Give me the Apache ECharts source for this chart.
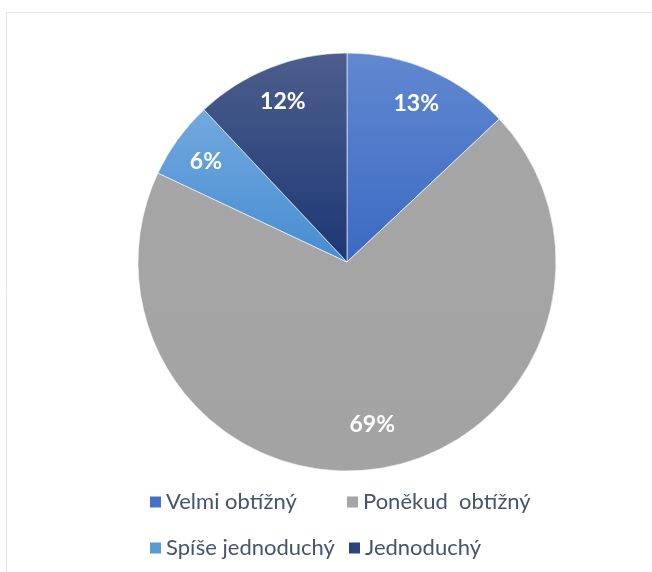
<!DOCTYPE html>
<html><head><meta charset="utf-8">
<script src="https://cdn.jsdelivr.net/npm/echarts@6/dist/echarts.min.js"></script>
<style>html,body{margin:0;padding:0;background:#fff}#c{width:652px;height:572px}</style>
</head><body><div id="c"></div>
<script>
const categories = ['Velmi obtížný', 'Poněkud  obtížný', 'Spíše jednoduchý', 'Jednoduchý'];
const values = [13, 69, 6, 12];
const labels = ['13%', '69%', '6%', '12%'];
const gradients = [
  ['#6188d0', '#3b6ac3'],
  ['#a6a6a6', '#a3a3a3'],
  ['#72a8de', '#468dd2'],
  ['#4c5e8c', '#1d3774']
];
const legendIconColors = ['#4472c4', '#a5a5a5', '#5b9bd5', '#2a4580'];
const labelOffsets = [[0, 2], [-2, -10], [0, 2], [0, 2]];

function grad(c) {
  return new echarts.graphic.LinearGradient(0, 0, 0, 1, [{offset: 0, color: c[0]}, {offset: 1, color: c[1]}]);
}

const chart = echarts.init(document.getElementById('c'), null, {renderer: 'canvas'});
const R = 209;
const center = [347, 262];
const font = 'Lato, "Open Sans", sans-serif';

const legendPos = [[143, 486], [340, 486], [143, 532], [342, 532]];
const legends = categories.map((name, i) => ({
  data: [{name: name, itemStyle: {color: legendIconColors[i]}}],
  left: legendPos[i][0], top: legendPos[i][1],
  icon: 'rect', itemWidth: 13, itemHeight: 13, itemGap: 0,
  selectedMode: false,
  textStyle: {fontFamily: font, fontSize: 22, color: '#44546a', padding: [0, 0, 0, -1]}
}));

chart.setOption({
  animation: false,
  graphic: [{
    type: 'rect', shape: {x: 6.5, y: 12.5, width: 700, height: 600},
    style: {fill: null, stroke: '#dde3ea', lineWidth: 1}, silent: true, z: -10
  }],
  legend: legends,
  series: [{
    type: 'pie',
    center: center,
    radius: [0, R],
    startAngle: 90,
    clockwise: true,
    label: {show: false},
    labelLine: {show: false},
    data: categories.map((n, i) => ({name: n, value: values[i], itemStyle: {color: grad(gradients[i]), borderColor: '#ffffff', borderWidth: 0.6}}))
  }, {
    type: 'pie',
    center: center,
    radius: [R * 0.64, R],
    startAngle: 90,
    clockwise: true,
    silent: true,
    legendHoverLink: false,
    itemStyle: {color: 'rgba(0,0,0,0)'},
    label: {
      show: true, position: 'inside',
      formatter: p => labels[p.dataIndex],
      color: '#ffffff', fontFamily: font, fontWeight: 'bold', fontSize: 23
    },
    labelLine: {show: false},
    data: categories.map((n, i) => ({name: n + ' ', value: values[i], label: {offset: labelOffsets[i]}}))
  }]
});
</script></body></html>
